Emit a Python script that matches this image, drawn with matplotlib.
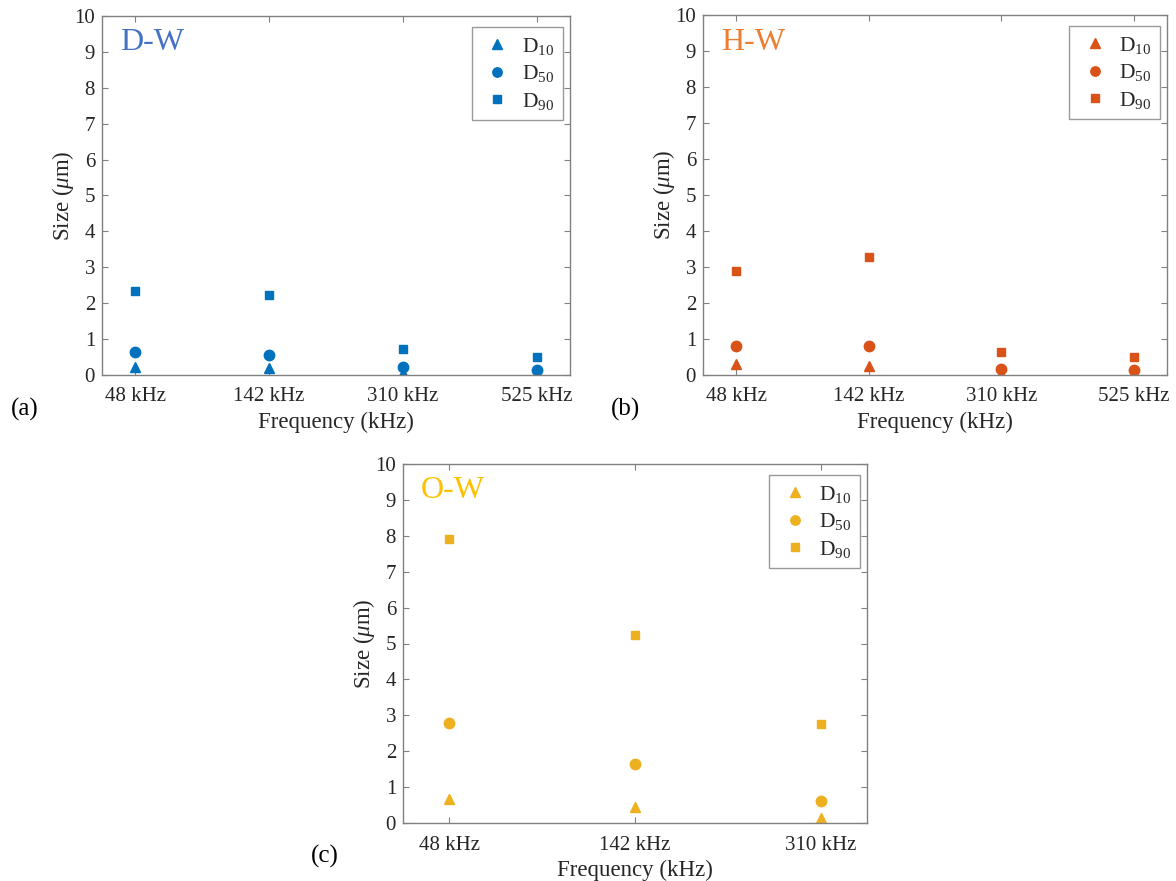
import matplotlib.pyplot as plt

# ----------------------------
# Data
# ----------------------------
freq_4 = ["48 kHz", "142 kHz", "310 kHz", "525 kHz"]
freq_3 = ["48 kHz", "142 kHz", "310 kHz"]

dw_d10 = [0.22, 0.19, 0.05, 0.03]
dw_d50 = [0.64, 0.56, 0.21, 0.15]
dw_d90 = [2.33, 2.22, 0.72, 0.50]

hw_d10 = [0.31, 0.24, 0.03, 0.03]
hw_d50 = [0.80, 0.81, 0.17, 0.15]
hw_d90 = [2.90, 3.28, 0.65, 0.50]

ow_d10 = [0.68, 0.45, 0.14]
ow_d50 = [2.79, 1.63, 0.61]
ow_d90 = [7.92, 5.24, 2.77]

series_labels = [r"D$_{10}$", r"D$_{50}$", r"D$_{90}$"]

# ----------------------------
# Style
# ----------------------------
plt.rcParams["font.family"] = ["Liberation Serif", "DejaVu Serif"]
plt.rcParams["mathtext.fontset"] = "custom"
plt.rcParams["mathtext.rm"] = "Liberation Serif"
plt.rcParams["mathtext.it"] = "Liberation Serif:italic"

spine_gray = "#808080"
text_gray = "#262626"


def draw_panel(ax, cats, d10, d50, d90, color, title, title_color):
    x = list(range(1, len(cats) + 1))
    ax.plot(x, d10, linestyle="none", marker="^", ms=7.5, color=color, label=series_labels[0])
    ax.plot(x, d50, linestyle="none", marker="o", ms=7.5, color=color, label=series_labels[1])
    ax.plot(x, d90, linestyle="none", marker="s", ms=5.8, color=color, label=series_labels[2])

    ax.set_xlim(0.75, len(cats) + 0.25)
    ax.set_ylim(0, 10)
    ax.set_xticks(x)
    ax.set_xticklabels(cats)
    ax.set_yticks(range(0, 11))
    ax.tick_params(direction="in", top=True, right=True, length=4,
                   color=spine_gray, labelcolor=text_gray, labelsize=15)
    ax.tick_params(axis="x", pad=9)
    ax.tick_params(axis="y", pad=5)
    for s in ax.spines.values():
        s.set_color(spine_gray)
        s.set_linewidth(1.0)

    ax.set_xlabel("Frequency (kHz)", fontsize=16.5, color=text_gray, labelpad=4)
    ax.set_ylabel(r"Size ($\mu$m)", fontsize=16.5, color=text_gray, labelpad=-1)

    ax.text(0.038, 0.925, title, transform=ax.transAxes, fontsize=23,
            color=title_color, ha="left", va="center")

    leg = ax.legend(loc="upper right", bbox_to_anchor=(0.985, 0.969), borderaxespad=0,
                    fontsize=15.5, frameon=True, fancybox=False, edgecolor=spine_gray,
                    handlelength=1.6, handletextpad=0.35, labelspacing=0.3,
                    borderpad=0.4, markerscale=0.9)
    leg.get_frame().set_linewidth(1.0)
    for t in leg.get_texts():
        t.set_color(text_gray)


fig = plt.figure(figsize=(11.76, 8.81), dpi=100)
W, H = 1176, 881

ax_a = fig.add_axes([102 / W, 1 - 375 / H, 468 / W, 359 / H])
ax_b = fig.add_axes([703 / W, 1 - 375 / H, 464 / W, 360 / H])
ax_c = fig.add_axes([403 / W, 1 - 823 / H, 464 / W, 359 / H])

draw_panel(ax_a, freq_4, dw_d10, dw_d50, dw_d90, "#0072BD", "D-W", "#4472C4")
draw_panel(ax_b, freq_4, hw_d10, hw_d50, hw_d90, "#D95319", "H-W", "#ED7D31")
draw_panel(ax_c, freq_3, ow_d10, ow_d50, ow_d90, "#EDB120", "O-W", "#FFC000")

fig.text(25 / W, 1 - 409 / H, "(a)", fontsize=18, color="black", ha="center", va="center")
fig.text(625 / W, 1 - 409 / H, "(b)", fontsize=18, color="black", ha="center", va="center")
fig.text(325 / W, 1 - 856 / H, "(c)", fontsize=18, color="black", ha="center", va="center")

plt.savefig("out.png", dpi=100)
